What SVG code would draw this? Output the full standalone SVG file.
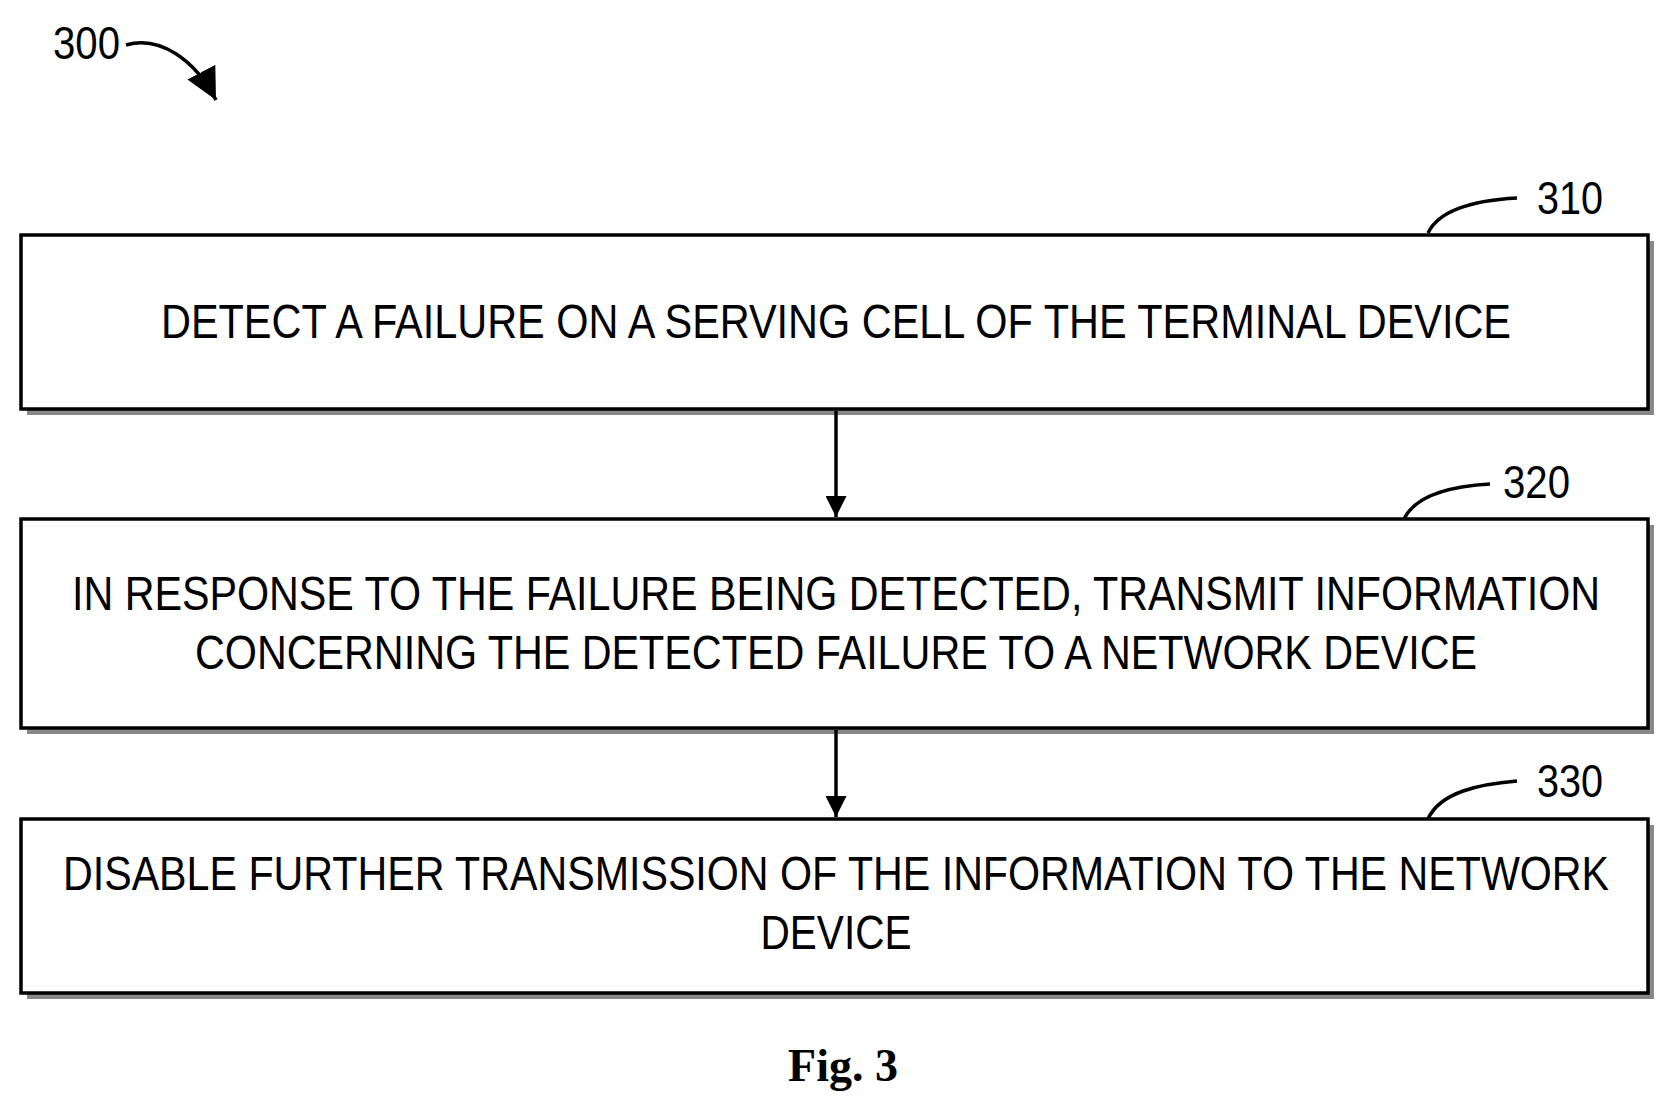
<svg xmlns="http://www.w3.org/2000/svg" width="1675" height="1099" viewBox="0 0 1675 1099">
<style>
.box{fill:#fff;stroke:#000;stroke-width:3.5}
.sh{fill:#888}
.t{font-family:"Liberation Sans",Arial,sans-serif;font-size:48px;fill:#000}
.lbl{font-family:"Liberation Sans",Arial,sans-serif;font-size:46px;fill:#000}
.ld{fill:none;stroke:#000;stroke-width:3.5}
</style>
<defs><marker id="ah" viewBox="0 0 10 10" refX="10" refY="5" markerWidth="6" markerHeight="6" orient="auto" markerUnits="strokeWidth"><path d="M0,0 L10,5 L0,10 z" fill="#000"/></marker>
<marker id="ah2" viewBox="0 0 10 10" refX="10" refY="5" markerWidth="9" markerHeight="9" orient="auto" markerUnits="strokeWidth"><path d="M0,0 L10,5 L0,10 z" fill="#000"/></marker></defs>
<g id="ref300"><text class="lbl" x="53" y="59" textLength="67" lengthAdjust="spacingAndGlyphs">300</text><path class="ld" d="M126,45 C160,35 195,60 216,100" marker-end="url(#ah2)"/></g>
<g id="n310"><rect class="sh" x="27" y="241" width="1627" height="174"/><rect class="box" x="21" y="235" width="1627" height="174"/><text class="t" x="836" y="338" text-anchor="middle" textLength="1350" lengthAdjust="spacingAndGlyphs">DETECT A FAILURE ON A SERVING CELL OF THE TERMINAL DEVICE</text><path class="ld" d="M1428,233 C1440,208 1480,200 1517,198"/><text class="lbl" x="1537" y="214" textLength="66" lengthAdjust="spacingAndGlyphs">310</text></g>
<g id="n320"><rect class="sh" x="27" y="525" width="1627" height="209"/><rect class="box" x="21" y="519" width="1627" height="209"/><text class="t" x="836" y="610" text-anchor="middle" textLength="1528" lengthAdjust="spacingAndGlyphs">IN RESPONSE TO THE FAILURE BEING DETECTED, TRANSMIT INFORMATION</text><text class="t" x="836" y="669" text-anchor="middle" textLength="1282" lengthAdjust="spacingAndGlyphs">CONCERNING THE DETECTED FAILURE TO A NETWORK DEVICE</text><path class="ld" d="M1404,519 C1416,494 1455,486 1490,484"/><text class="lbl" x="1503" y="498" textLength="67" lengthAdjust="spacingAndGlyphs">320</text></g>
<g id="n330"><rect class="sh" x="27" y="825" width="1627" height="174"/><rect class="box" x="21" y="819" width="1627" height="174"/><text class="t" x="836" y="890" text-anchor="middle" textLength="1546" lengthAdjust="spacingAndGlyphs">DISABLE FURTHER TRANSMISSION OF THE INFORMATION TO THE NETWORK</text><text class="t" x="836" y="949" text-anchor="middle" textLength="151" lengthAdjust="spacingAndGlyphs">DEVICE</text><path class="ld" d="M1428,819 C1440,792 1480,784 1517,781"/><text class="lbl" x="1537" y="797" textLength="66" lengthAdjust="spacingAndGlyphs">330</text></g>
<g id="connectors"><line class="ld" x1="836" y1="411" x2="836" y2="517" marker-end="url(#ah)"/><line class="ld" x1="836" y1="730" x2="836" y2="817" marker-end="url(#ah)"/></g>
<text x="843" y="1081" text-anchor="middle" font-family="Liberation Serif,Times New Roman,serif" font-weight="bold" font-size="46">Fig. 3</text>
</svg>
